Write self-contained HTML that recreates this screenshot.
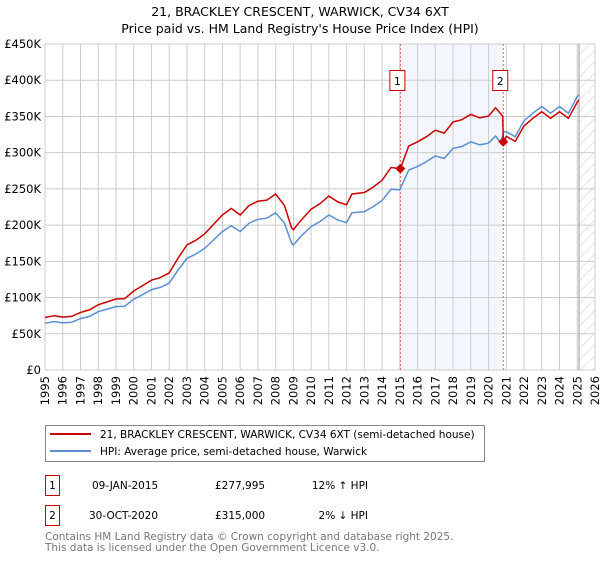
<!DOCTYPE html>
<html><head><meta charset="utf-8"><style>
body{margin:0;background:#fff;font-family:"DejaVu Sans","Liberation Sans",sans-serif;}
svg text{font-family:"DejaVu Sans","Liberation Sans",sans-serif;}
</style></head><body>
<svg id="chart" width="600" height="560" xmlns="http://www.w3.org/2000/svg">
<text x="300" y="16" text-anchor="middle" font-size="12.5">21, BRACKLEY CRESCENT, WARWICK, CV34 6XT</text>
<text x="300" y="33" text-anchor="middle" font-size="12.5">Price paid vs. HM Land Registry's House Price Index (HPI)</text>
<g id="grid"></g><g id="marks"></g><g id="axes"></g>
<rect x="45.5" y="425.5" width="439" height="36" fill="#fff" stroke="#888"/>
<line x1="50" y1="434" x2="91" y2="434" stroke="#cc0000" stroke-width="2"/>
<text x="100" y="438" font-size="10.5">21, BRACKLEY CRESCENT, WARWICK, CV34 6XT (semi-detached house)</text>
<line x1="50" y1="451" x2="91" y2="451" stroke="#5b8fd4" stroke-width="2"/>
<text x="100" y="455" font-size="10.5">HPI: Average price, semi-detached house, Warwick</text>
<g font-size="10.5">
<rect x="45.5" y="475.5" width="14" height="20" fill="#fff" stroke="#cc0000"/>
<text x="52.5" y="489" text-anchor="middle">1</text>
<text x="92" y="489">09-JAN-2015</text><text x="215" y="489">£277,995</text><text x="368" y="489" text-anchor="end">12% ↑ HPI</text></g>
<g font-size="10.5">
<rect x="45.5" y="505.5" width="14" height="20" fill="#fff" stroke="#cc0000"/>
<text x="52.5" y="519" text-anchor="middle">2</text>
<text x="89" y="519">30-OCT-2020</text><text x="215" y="519">£315,000</text><text x="368" y="519" text-anchor="end">2% ↓ HPI</text></g>
<text x="45" y="540" font-size="10.5" fill="#777">Contains HM Land Registry data © Crown copyright and database right 2025.</text>
<text x="45" y="551" font-size="10.5" fill="#777">This data is licensed under the Open Government Licence v3.0.</text>
</svg>
<script>
const years=[1995,1995.5,1996,1996.5,1997,1997.5,1998,1998.5,1999,1999.5,2000,2000.5,2001,2001.5,2002,2002.5,2003,2003.5,2004,2004.5,2005,2005.5,2006,2006.5,2007,2007.5,2008,2008.5,2008.9,2009,2009.4,2010,2010.5,2011,2011.5,2012,2012.3,2013,2013.5,2014,2014.5,2015,2015.5,2016,2016.5,2017,2017.5,2018,2018.5,2019,2019.5,2020,2020.4,2020.7,2020.85,2021,2021.5,2022,2022.5,2023,2023.5,2024,2024.5,2025,2025.1];
const hpi=[64.5,67,65,66,71,74,80.5,84,87.5,88,97.6,104,111,114,120,138,154,160,168,179.5,191,199,191,202.6,208,209.5,217,202.6,175,172.6,184,198,205,214,207,203.5,217,218.7,225.6,234,249.5,248.6,276,281,287.7,295.6,292,306,308.5,315,310.8,313,323,313,329,329,322,344,354.5,363.7,354.5,363.7,354.5,377.5,380];
const priceYears=[1995,1995.5,1996,1996.5,1997,1997.5,1998,1998.5,1999,1999.5,2000,2000.5,2001,2001.5,2002,2002.5,2003,2003.5,2004,2004.5,2005,2005.5,2006,2006.5,2007,2007.5,2008,2008.5,2008.9,2009,2009.4,2010,2010.5,2011,2011.5,2012,2012.3,2013,2013.5,2014,2014.5,2015.03,2015.5,2016,2016.5,2017,2017.5,2018,2018.5,2019,2019.5,2020,2020.4,2020.8,2020.83,2021,2021.5,2022,2022.5,2023,2023.5,2024,2024.5,2025,2025.1];
const price=[72.5,75,73,74,79.5,83,90,94,98,98.5,109,116.5,124,127.5,134,154.5,172.5,179,188,201,214,223,214,227,233,234.5,243,227,196,193.5,206,222,229.5,240,232,228,243,245,252.5,262,279.5,278,309,315,322,331,327,342.5,345.5,353,348,350.5,362,350.5,315,322.5,315.5,337,347.5,356.5,347.5,356.5,347.5,370,372.5];
const saleYears=[2015.03,2020.83];
const saleValues=[277.995,315];
const yTicks=[0,50,100,150,200,250,300,350,400,450];
const yTickLabels=["£0","£50K","£100K","£150K","£200K","£250K","£300K","£350K","£400K","£450K"];
const xTicks=[1995,1996,1997,1998,1999,2000,2001,2002,2003,2004,2005,2006,2007,2008,2009,2010,2011,2012,2013,2014,2015,2016,2017,2018,2019,2020,2021,2022,2023,2024,2025,2026];

const NS="http://www.w3.org/2000/svg";
const L=45,R=595,T=44,B=370;
const x=v=>L+(v-1995)/(2026-1995)*(R-L);
const y=v=>B-v/450*(B-T);
function mk(tag,attrs,parent,text){const e=document.createElementNS(NS,tag);for(const k in attrs)e.setAttribute(k,attrs[k]);if(text!==undefined)e.textContent=text;document.getElementById(parent).appendChild(e);return e;}
// shaded region between sales
let sh=mk('rect',{x:x(saleYears[0]),y:T,width:x(saleYears[1])-x(saleYears[0]),height:B-T,fill:'#eef3fc',opacity:0.7},'grid');


// hatch future
const defs=mk('defs',{},'grid');
const pat=document.createElementNS(NS,'pattern');pat.setAttribute('id','hatch');pat.setAttribute('width','8');pat.setAttribute('height','8');pat.setAttribute('patternUnits','userSpaceOnUse');pat.setAttribute('patternTransform','rotate(45)');
const pl=document.createElementNS(NS,'line');pl.setAttribute('x1','0');pl.setAttribute('y1','0');pl.setAttribute('x2','0');pl.setAttribute('y2','8');pl.setAttribute('stroke','#ccc');pl.setAttribute('stroke-width','1');pat.appendChild(pl);defs.appendChild(pat);
let ht=mk('rect',{x:x(2025.1),y:T,width:R-x(2025.1),height:B-T,fill:'url(#hatch)'},'grid');


yTicks.forEach((t,i)=>{
  let g=mk('line',{x1:L,x2:R,y1:y(t),y2:y(t),stroke:'#ccc','stroke-width':1},'grid');
  
  
  let tx=mk('text',{x:L-4,y:y(t)+4,'text-anchor':'end','font-size':'11.5'},'axes',yTickLabels[i]);
  
  
});
xTicks.forEach(t=>{
  let g=mk('line',{x1:x(t),x2:x(t),y1:T,y2:B,stroke:'#ccc','stroke-width':1},'grid');
  
  
  let tx=mk('text',{x:0,y:0,'text-anchor':'end','font-size':'11.5',transform:`translate(${x(t)+4},${B+6}) rotate(-90)`},'axes',String(t));
  
  
});
let fl=mk('line',{x1:x(2025.1),x2:x(2025.1),y1:T,y2:B,stroke:'#999','stroke-width':1},'grid');


saleYears.forEach((s,i)=>{
  let v=mk('line',{x1:x(s),x2:x(s),y1:T,y2:B,stroke:'#e06060','stroke-width':1,'stroke-dasharray':'2,2'},'marks');
  
  
  let bx=mk('rect',{x:x(s)-10.5,y:70.5,width:15,height:20,fill:'#fff',stroke:'#cc0000'},'marks');
  
  
  mk('text',{x:x(s)-3,y:85,'text-anchor':'middle','font-size':'11'},'marks',String(i+1));
});
function pts(xs,vs){return xs.map((a,i)=>x(a).toFixed(1)+','+y(vs[i]).toFixed(1)).join(' ');}
let hl=mk('polyline',{points:pts(years,hpi),fill:'none',stroke:'#5b8fd4','stroke-width':1.5},'marks');


let rl=mk('polyline',{points:pts(priceYears,price),fill:'none',stroke:'#cc0000','stroke-width':1.5},'marks');


saleYears.forEach((s,i)=>{
  const cx=x(s),cy=y(saleValues[i]);
  let d=mk('polygon',{points:`${cx},${cy-5} ${cx+5},${cy} ${cx},${cy+5} ${cx-5},${cy}`,fill:'#cc0000'},'marks');
  
  
});
</script>
</body></html>
